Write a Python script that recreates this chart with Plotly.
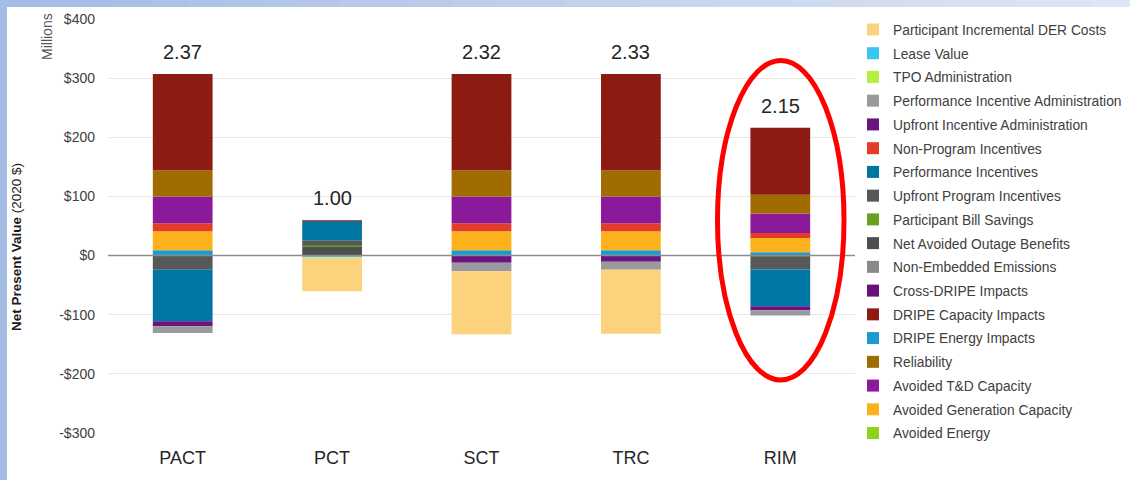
import plotly.graph_objects as go
import numpy as np

# ---------------- data ----------------
categories = ["PACT", "PCT", "SCT", "TRC", "RIM"]
ratio_labels = ["2.37", "1.00", "2.32", "2.33", "2.15"]

# Stack order (bottom-up from zero), values in $ millions (NPV, 2020 $)
dripe_energy = [9, 0, 9, 9, 5.6]
avoided_gen_capacity = [32, 0, 32, 32, 24.3]
net_avoided_outage = [0, 14.7, 0, 0, 0]
participant_bill_savings = [0, 2.3, 0, 0, -1.5]
upfront_program_incentives = [-24, 9, 0, 0, -22]
performance_incentives = [-87, 33, 0, 0, -62]
non_program_incentives = [13.6, 0.6, 13.6, 13.6, 8.4]
avoided_td_capacity = [45.4, 0, 45.4, 45.4, 32.7]
reliability = [44, 0, 44, 44, 32]
dripe_capacity = [163, 0, 163, 163, 113]
upfront_incentive_admin = [-8.5, 0, -12, -10.5, -7]
performance_incentive_admin = [-11.5, 0, -14.5, -13.5, -9]
lease_value = [0, -3, 0, 0, 0]
participant_der_costs = [0, -57.4, -106.5, -108, 0]
tpo_administration = [0, 0, 0, 0, 0]
non_embedded_emissions = [0, 0, 0, 0, 0]
cross_dripe = [0, 0, 0, 0, 0]
avoided_energy = [0, 0, 0, 0, 0]

y_tick_values = [-300, -200, -100, 0, 100, 200, 300, 400]
y_tick_labels = ["-$300", "-$200", "-$100", "$0", "$100", "$200", "$300", "$400"]

# (name, values, colour, legend rank) in stacking order
series = [
    ("DRIPE Energy Impacts", dripe_energy, "#1b9cd0", 14),
    ("Avoided Generation Capacity", avoided_gen_capacity, "#fdb11a", 17),
    ("Net Avoided Outage Benefits", net_avoided_outage, "#4d4e50", 10),
    ("Participant Bill Savings", participant_bill_savings, "#6aa021", 9),
    ("Upfront Program Incentives", upfront_program_incentives, "#56585a", 8),
    ("Performance Incentives", performance_incentives, "#0076a3", 7),
    ("Non-Program Incentives", non_program_incentives, "#e23d28", 6),
    ("Avoided T&D Capacity", avoided_td_capacity, "#8a1a9a", 16),
    ("Reliability", reliability, "#a06c00", 15),
    ("DRIPE Capacity Impacts", dripe_capacity, "#8d1b11", 13),
    ("Upfront Incentive Administration", upfront_incentive_admin, "#6b1380", 5),
    ("Performance Incentive Administration", performance_incentive_admin, "#9a9a9e", 4),
    ("Lease Value", lease_value, "#3cc4f2", 2),
    ("Participant Incremental DER Costs", participant_der_costs, "#fdd27c", 1),
    ("TPO Administration", tpo_administration, "#b8ee40", 3),
    ("Non-Embedded Emissions", non_embedded_emissions, "#8a8a8a", 11),
    ("Cross-DRIPE Impacts", cross_dripe, "#6a0f7a", 12),
    ("Avoided Energy", avoided_energy, "#8fd11c", 18),
]

FONT = "Arial, 'Liberation Sans', sans-serif"
W, H = 1130, 480
ML, MR, MT, MB = 108, 275, 19, 47
PW, PH = W - ML - MR, H - MT - MB


def px_x(px):
    return (px - ML) / PW


def px_y(py):
    return (H - MB - py) / PH


fig = go.Figure()
for name, vals, color, rank in series:
    fig.add_trace(go.Bar(
        x=categories, y=vals, name=name,
        marker=dict(color=color, line=dict(width=0)),
        legendrank=rank, legendgroup=name,
    ))

# ratio labels above each bar
pos_tot = np.zeros(len(categories))
for _, vals, _, _ in series:
    v = np.array(vals, dtype=float)
    pos_tot += np.where(v > 0, v, 0)

annotations = []
for c, t, lab in zip(categories, pos_tot, ratio_labels):
    annotations.append(dict(x=c, y=float(t), text=lab, showarrow=False,
                            yanchor="bottom", yshift=9,
                            font=dict(family=FONT, size=20, color="#262626")))

annotations.append(dict(xref="paper", yref="paper", x=px_x(16), y=px_y(247),
                        xanchor="center", yanchor="middle",
                        text="<b>Net Present Value</b> (2020 $)", textangle=-90,
                        showarrow=False, font=dict(family=FONT, size=13.5, color="#1a1a1a")))
annotations.append(dict(xref="paper", yref="paper", x=px_x(47), y=px_y(37),
                        xanchor="center", yanchor="middle",
                        text="Millions", textangle=-90, showarrow=False,
                        font=dict(family=FONT, size=14, color="#555555")))

shapes = []
# frame: white card on a blue gradient border
shapes.append(dict(type="rect", xref="paper", yref="paper", layer="below",
                   x0=px_x(0), x1=px_x(7), y0=px_y(480), y1=px_y(0),
                   fillcolor="#a5bce5", line=dict(width=0)))
nseg = 30
c0 = np.array([165, 188, 229])
c1 = np.array([222, 230, 244])
for i in range(nseg):
    f = i / (nseg - 1)
    col = (c0 + (c1 - c0) * f).astype(int)
    shapes.append(dict(type="rect", xref="paper", yref="paper", layer="below",
                       x0=px_x(W * i / nseg), x1=px_x(W * (i + 1) / nseg + 1),
                       y0=px_y(7), y1=px_y(0),
                       fillcolor="rgb(%d,%d,%d)" % tuple(col), line=dict(width=0)))
# zero line above bars
shapes.append(dict(type="line", xref="paper", yref="y", x0=0, x1=1, y0=0, y1=0,
                   line=dict(color="#8c8c8c", width=1.5), layer="above"))
# red ellipse around RIM
shapes.append(dict(type="circle", xref="paper", yref="paper",
                   x0=px_x(717.5), x1=px_x(844), y0=px_y(380), y1=px_y(60.5),
                   line=dict(color="#ff0000", width=5), layer="above"))

fig.update_layout(
    width=W, height=H, autosize=False,
    margin=dict(l=ML, r=MR, t=MT, b=MB, pad=0, autoexpand=False),
    barmode="relative", bargap=0.6,
    paper_bgcolor="white", plot_bgcolor="rgba(0,0,0,0)",
    font=dict(family=FONT, color="#404040"),
    showlegend=True,
    legend=dict(x=px_x(853), y=px_y(14), xanchor="left", yanchor="top",
                traceorder="grouped", tracegroupgap=2.8, maxheight=470,
                font=dict(family=FONT, size=13.8, color="#404040"),
                bgcolor="rgba(0,0,0,0)", borderwidth=0),
    annotations=annotations, shapes=shapes,
    hovermode=False,
)
fig.update_xaxes(showgrid=False, showline=False, ticks="", zeroline=False,
                 tickfont=dict(family=FONT, size=18, color="#262626"),
                 ticklabelstandoff=12)
fig.update_yaxes(range=[-300, 400], tickvals=y_tick_values, ticktext=y_tick_labels,
                 showgrid=True, gridcolor="#e6e6e6", gridwidth=1, zeroline=False,
                 showline=False, ticks="",
                 tickfont=dict(family=FONT, size=14, color="#404040"),
                 ticklabelstandoff=12)

fig.write_html("out.html", config={"displayModeBar": False},
               post_script="document.body.style.margin='0';")
